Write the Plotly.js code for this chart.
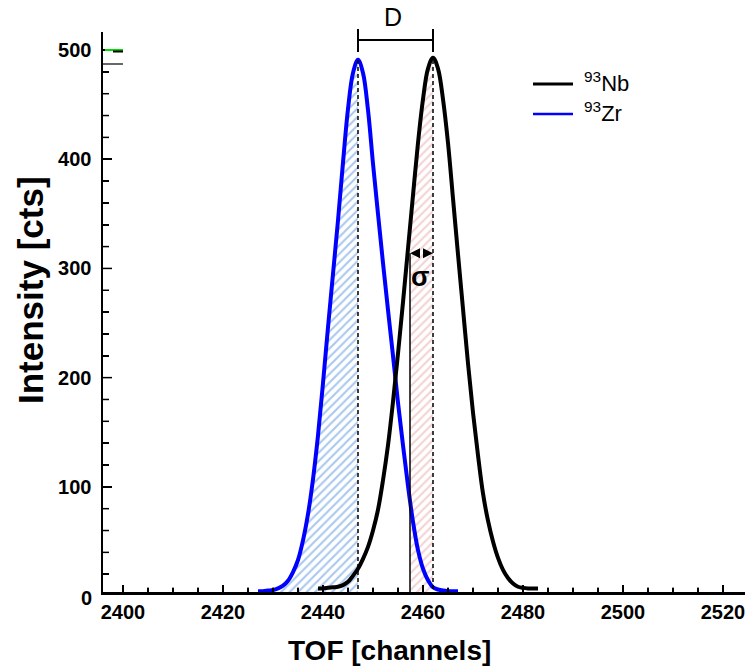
<!DOCTYPE html>
<html><head><meta charset="utf-8">
<script src="https://cdn.plot.ly/plotly-3.0.1.min.js"></script>
<style>html,body{margin:0;padding:0;background:#fff}#chart{width:745px;height:668px}</style>
</head><body><div id="chart"></div>
<script>
// ---- data ----
const zrChannels = [2427,2428,2429,2430,2431,2432,2433,2434,2435,2436,2437,2438,2439,2440,2441,2442,2443,2444,2445,2446,2447,2448,2449,2450,2451,2452,2453,2454,2455,2456,2457,2458,2459,2460,2461,2462,2463,2464,2465,2466,2467];
const zrCounts = [4.5,4.5,5,5.5,7,9.5,14,22,33,51,75,107,147,195,246,295,344,397,446,479,491,479,445,396,350,305,262,220,177,138,101,68,42,25,14.5,8,6,5,4.5,4.5,4.5];
const nbChannels = [2439,2440,2441,2442,2443,2444,2445,2446,2447,2448,2449,2450,2451,2452,2453,2454,2455,2456,2457,2458,2459,2460,2461,2462,2463,2464,2465,2466,2467,2468,2469,2470,2471,2472,2473,2474,2475,2476,2477,2478,2479,2480,2481,2482,2483];
const nbCounts = [7,7,7.5,8,8.5,10,13,18.6,25,34,45,60,79,106,138,178,222,269,318,367,415,455,483,493,483,455,415,364,313,263,213,168,129,94,69,50,35,24,16.5,11.5,8.5,7.5,7,7,7];
const peakCenters = [2447.0, 2462.0];   // Zr, Nb
const peakHeights = [491, 493];
const sigmaNb = 4.6;
const sigmaMarkerCounts = 314;
const xTickVals = [2400,2420,2440,2460,2480,2500,2520];
const yTickVals = [0,100,200,300,400,500];
const seriesNames = ['<sup>93</sup>Nb', '<sup>93</sup>Zr'];

const X_RANGE = [2396, 2524.4], Y_RANGE = [3.7, 516.5];
const PLOT_W = 642, PLOT_H = 560;
const xUnitsPerPx = (X_RANGE[1]-X_RANGE[0])/PLOT_W;
const yUnitsPerPx = (Y_RANGE[1]-Y_RANGE[0])/PLOT_H;

// ---- helpers for fill boundaries ----
function interp(xs, ys, x){
  for(let i=0;i<xs.length-1;i++){
    if(x>=xs[i] && x<=xs[i+1]){
      const t=(x-xs[i])/(xs[i+1]-xs[i]);
      return ys[i]+t*(ys[i+1]-ys[i]);
    }
  }
  return 0;
}
const zrFillX=[], zrFillY=[];
zrChannels.forEach((c,i)=>{ if(c<=peakCenters[0]){zrFillX.push(c); zrFillY.push(zrCounts[i]);} });
const nbLo = peakCenters[1]-sigmaNb, nbHi = peakCenters[1];
const nbFillX=[nbLo], nbFillY=[interp(nbChannels,nbCounts,nbLo)];
nbChannels.forEach((c,i)=>{ if(c>nbLo && c<nbHi){nbFillX.push(c); nbFillY.push(nbCounts[i]);} });
nbFillX.push(nbHi); nbFillY.push(interp(nbChannels,nbCounts,nbHi));

// ---- tick marks (inside) as line segments in axis coordinates ----
const xStep = xTickVals[1]-xTickVals[0], yStep = yTickVals[1]-yTickVals[0];
const tickX=[], tickY=[];
for (let v = xTickVals[0]; v <= xTickVals[xTickVals.length-1]; v += xStep/4) {
  const major = xTickVals.includes(v);
  tickX.push(v, v, null);
  tickY.push(Y_RANGE[0], Y_RANGE[0] + (major?7:4.5)*yUnitsPerPx, null);
}
for (let k = 1; k <= 25; k++) {
  const val = yTickVals[0] + k*yStep/5;
  const major = yTickVals.includes(val);
  tickX.push(X_RANGE[0], X_RANGE[0] + (major?9:6)*xUnitsPerPx, null);
  tickY.push(val, val, null);
}

const FONT = 'Liberation Sans, Arial, Helvetica, sans-serif';

const traces = [
  {x: zrFillX, y: zrFillY, type:'scatter', mode:'lines', line:{width:0, shape:'spline'},
   fill:'tozeroy', fillcolor:'rgba(255,255,255,0)',
   fillpattern:{shape:'/', fgcolor:'#a9c8ee', bgcolor:'rgba(255,255,255,0)', size:6, solidity:0.35},
   hoverinfo:'skip', showlegend:false},
  {x: nbFillX, y: nbFillY, type:'scatter', mode:'lines', line:{width:0},
   fill:'tozeroy', fillcolor:'rgba(255,255,255,0)',
   fillpattern:{shape:'/', fgcolor:'#f3d2d2', bgcolor:'rgba(255,255,255,0)', size:6, solidity:0.35},
   hoverinfo:'skip', showlegend:false},
  {x: zrChannels, y: zrCounts, type:'scatter', mode:'lines', name:seriesNames[1],
   line:{color:'#0000ff', width:4, shape:'spline', smoothing:1}, showlegend:false},
  {x: nbChannels, y: nbCounts, type:'scatter', mode:'lines', name:seriesNames[0],
   line:{color:'#000000', width:4, shape:'spline', smoothing:1}, showlegend:false},
  {x: tickX, y: tickY, type:'scatter', mode:'lines', line:{color:'#000', width:1.5},
   connectgaps:false, hoverinfo:'skip', showlegend:false, cliponaxis:false}
];

const py = p => (592-p)/PLOT_H;
const px = p => (p-103)/PLOT_W;

const shapes = [
  {type:'line', xref:'x', yref:'y', x0:peakCenters[0], x1:peakCenters[0], y0:0, y1:peakHeights[0], line:{color:'#000', width:1.5, dash:'4px,3px'}},
  {type:'line', xref:'x', yref:'y', x0:peakCenters[1], x1:peakCenters[1], y0:0, y1:peakHeights[1], line:{color:'#000', width:1.5, dash:'4px,3px'}},
  {type:'line', xref:'x', yref:'y', x0:peakCenters[1]-sigmaNb, x1:peakCenters[1]-sigmaNb, y0:0, y1:sigmaMarkerCounts, line:{color:'#000', width:1.5}},
  {type:'line', xref:'x', yref:'paper', x0:peakCenters[0], x1:peakCenters[1], y0:py(40), y1:py(40), line:{color:'#000', width:2}},
  {type:'line', xref:'x', yref:'paper', x0:peakCenters[0], x1:peakCenters[0], y0:py(29), y1:py(52), line:{color:'#000', width:2}},
  {type:'line', xref:'x', yref:'paper', x0:peakCenters[1], x1:peakCenters[1], y0:py(29), y1:py(52), line:{color:'#000', width:2}},
  {type:'line', xref:'paper', yref:'paper', x0:px(533), x1:px(573), y0:py(84), y1:py(84), line:{color:'#000', width:3}},
  {type:'line', xref:'paper', yref:'paper', x0:px(533), x1:px(573), y0:py(114), y1:py(114), line:{color:'#0000ff', width:2.5}},
  {type:'line', xref:'paper', yref:'paper', x0:px(105), x1:px(123), y0:py(50), y1:py(50), line:{color:'#00e000', width:2}},
  {type:'line', xref:'paper', yref:'paper', x0:px(113), x1:px(123), y0:py(51.5), y1:py(51.5), line:{color:'#000', width:2}},
  {type:'line', xref:'paper', yref:'paper', x0:px(103), x1:px(123), y0:py(64), y1:py(64), line:{color:'#000', width:1.2}}
];

const annotations = [
  {text:'D', xref:'x', x:(peakCenters[0]+peakCenters[1])/2, xshift:-3, yref:'paper', y:py(17), yanchor:'middle', showarrow:false,
   font:{family:FONT, size:25, color:'#000'}},
  {text:String(yTickVals[0]), xref:'paper', x:0, xanchor:'right', xshift:-9, yref:'paper', y:py(598), yanchor:'middle', showarrow:false,
   font:{family:FONT, size:20, color:'#000', weight:'bold'}},
  {text:seriesNames[0], xref:'paper', x:px(582), xanchor:'left', yref:'paper', y:py(82), yanchor:'middle', showarrow:false,
   font:{family:FONT, size:22, color:'#000'}},
  {text:seriesNames[1], xref:'paper', x:px(582), xanchor:'left', yref:'paper', y:py(112), yanchor:'middle', showarrow:false,
   font:{family:FONT, size:22, color:'#000'}},
  {text:'σ', xref:'x', x:peakCenters[1]-sigmaNb/2, xshift:-2, yref:'y', y:sigmaMarkerCounts, yshift:-24, yanchor:'middle', showarrow:false,
   font:{family:FONT, size:27, color:'#000', weight:'bold'}},
  {text:'', xref:'x', yref:'y', x:peakCenters[1], y:sigmaMarkerCounts, axref:'x', ayref:'y', ax:peakCenters[1]-sigmaNb/2, ay:sigmaMarkerCounts,
   showarrow:true, arrowhead:2, arrowsize:1, arrowwidth:2, arrowcolor:'#000', standoff:0},
  {text:'', xref:'x', yref:'y', x:peakCenters[1]-sigmaNb, y:sigmaMarkerCounts, axref:'x', ayref:'y', ax:peakCenters[1]-sigmaNb/2, ay:sigmaMarkerCounts,
   showarrow:true, arrowhead:2, arrowsize:1, arrowwidth:2, arrowcolor:'#000', standoff:0},
  {text:'TOF [channels]', xref:'paper', x:px(389), xanchor:'center', yref:'paper', y:py(650), yanchor:'middle', showarrow:false,
   font:{family:FONT, size:28, color:'#000', weight:'bold'}},
  {text:'Intensity [cts]', xref:'paper', x:px(30), xanchor:'center', yref:'paper', y:py(290), yanchor:'middle', textangle:-90, showarrow:false,
   font:{family:FONT, size:35, color:'#000', weight:'bold'}}
];

const layout = {
  width:745, height:668,
  margin:{l:103, r:0, t:32, b:76, pad:0},
  paper_bgcolor:'#fff', plot_bgcolor:'#fff',
  showlegend:false,
  xaxis:{range:X_RANGE, tickmode:'linear', tick0:xTickVals[0], dtick:xStep,
    ticks:'inside', ticklen:7, tickwidth:1.5, tickcolor:'#000',
    minor:{dtick:xStep/4, ticks:'inside', ticklen:4.5, tickwidth:1.5, tickcolor:'#000'},
    showline:true, linecolor:'#000', linewidth:3, showgrid:false, zeroline:false, ticklabeloverflow:'allow',
    tickfont:{family:FONT, size:20, color:'#000', weight:'bold'}},
  yaxis:{range:Y_RANGE, tickmode:'linear', tick0:yTickVals[0], dtick:yStep,
    ticks:'inside', ticklen:9, tickwidth:1.5, tickcolor:'#000', ticksuffix:' ',
    minor:{dtick:yStep/5, ticks:'inside', ticklen:6, tickwidth:1.5, tickcolor:'#000'},
    showline:true, linecolor:'#000', linewidth:2, showgrid:false, zeroline:false,
    tickfont:{family:FONT, size:20, color:'#000', weight:'bold'}},
  shapes:shapes, annotations:annotations
};

Plotly.newPlot('chart', traces, layout, {displayModeBar:false, staticPlot:true});
</script></body></html>
